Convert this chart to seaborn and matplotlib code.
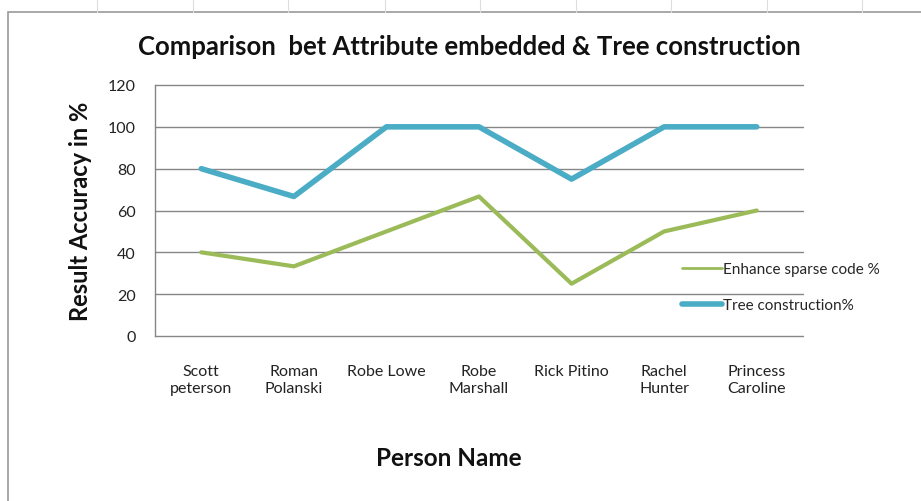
import matplotlib
matplotlib.use("Agg")
import matplotlib.pyplot as plt
import seaborn as sns
import pandas as pd
from matplotlib.lines import Line2D
from matplotlib.patches import Rectangle

persons = ["Scott\npeterson", "Roman\nPolanski", "Robe Lowe", "Robe\nMarshall",
           "Rick Pitino", "Rachel\nHunter", "Princess\nCaroline"]
enhance = [40, 33.3, 50, 66.7, 25, 50, 60]
tree = [80, 66.7, 100, 100, 75, 100, 100]
series_names = ["Enhance sparse code %", "Tree construction%"]
colors = ["#9BBB59", "#4BACC6"]
yticks = [0, 20, 40, 60, 80, 100, 120]

sns.set_style("white")
plt.rcParams["font.family"] = ["Lato", "DejaVu Sans"]

df = pd.DataFrame({
    "Person": persons * 2,
    "Value": enhance + tree,
    "Series": [series_names[0]] * len(persons) + [series_names[1]] * len(persons),
})

fig = plt.figure(figsize=(9.21, 5.02), dpi=100)
ax = fig.add_axes([155 / 921, 1 - 337 / 502, (803 - 155) / 921, (337 - 86) / 502])

# outer chart frame and faint sheet gridlines
fig.patches.append(Rectangle((8 / 921, -0.01), 1.0, 1 - 13 / 502 + 0.01,
                             transform=fig.transFigure, fill=False,
                             edgecolor="#9a9a9a", lw=1.2, zorder=0))
for xp in [97, 193, 288, 385, 480, 576, 671, 767, 862]:
    fig.add_artist(Line2D([xp / 921, xp / 921], [1 - 13 / 502, 1.0],
                          transform=fig.transFigure, color="#dddddd", lw=0.8))

for y in yticks:
    ax.axhline(y, color="#868686", lw=1.0, zorder=0, clip_on=False)

sns.lineplot(data=df[df["Series"] == series_names[0]], x="Person", y="Value",
             color=colors[0], lw=3, sort=False, ax=ax, legend=False)
sns.lineplot(data=df[df["Series"] == series_names[1]], x="Person", y="Value",
             color=colors[1], lw=4, sort=False, ax=ax, legend=False)

ax.set_xlim(-0.5, len(persons) - 0.5)
ax.set_ylim(0, 120)
ax.set_yticks(yticks)
ax.set_yticklabels([str(v) for v in yticks], fontsize=11.5, color="#222222")
ax.set_xticks(range(len(persons)))
ax.set_xticklabels(persons, fontsize=11.5, color="#222222", linespacing=1.3)
ax.tick_params(axis="x", length=0, pad=20)
ax.tick_params(axis="y", length=0, pad=14)
for side in ["top", "right", "bottom"]:
    ax.spines[side].set_visible(False)
ax.spines["left"].set_color("#868686")
ax.spines["left"].set_linewidth(1.0)
ax.set_xlabel("")
ax.set_ylabel("")

fig.text(469 / 921, 1 - 47 / 502, "Comparison  bet Attribute embedded & Tree construction",
         ha="center", va="center", fontsize=18.5, fontweight="bold", color="#111111")
fig.text(80 / 921, 1 - 211 / 502, "Result Accuracy in %", rotation=90,
         ha="center", va="center", fontsize=17, fontweight="bold", color="#111111")
fig.text(449 / 921, 1 - 459 / 502, "Person Name",
         ha="center", va="center", fontsize=17.5, fontweight="bold", color="#111111")

handles = [Line2D([0], [0], color=colors[0], lw=2),
           Line2D([0], [0], color=colors[1], lw=4)]
fig.legend(handles, series_names, loc="upper left",
           bbox_to_anchor=(676 / 921, 1 - 257 / 502), frameon=False,
           fontsize=11, handlelength=2.6, handletextpad=0.1, labelspacing=1.45,
           borderaxespad=0)

fig.savefig("out.png", dpi=100, facecolor="white")
